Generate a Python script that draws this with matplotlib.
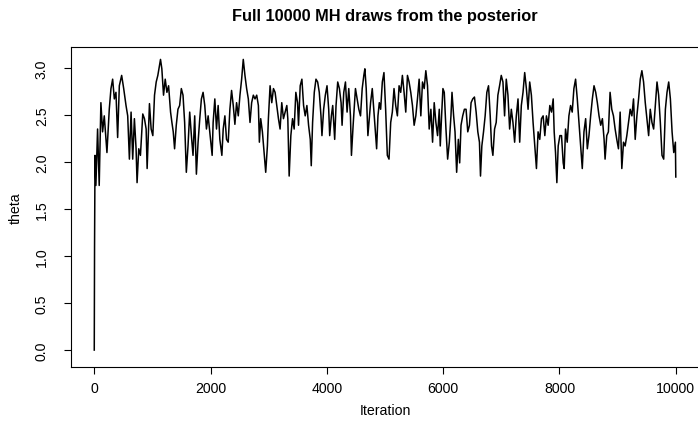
import matplotlib
matplotlib.use("Agg")
import matplotlib.pyplot as plt

plt.rcParams['font.family'] = ['Liberation Sans', 'DejaVu Sans']

title = "Full 10000 MH draws from the posterior"
xlabel = "Iteration"
ylabel = "theta"
xticks = [0, 2000, 4000, 6000, 8000, 10000]
yticks = [0.0, 0.5, 1.0, 1.5, 2.0, 2.5, 3.0]

iteration = [
    1, 6, 14, 29, 58, 86, 115, 144, 173, 202, 219, 259, 288, 317, 346, 374, 403, 432, 472, 507,
    547, 576, 605, 634, 662, 691, 720, 737, 766, 795, 835, 864, 893, 910, 950, 979, 1008, 1037,
    1066, 1094, 1140, 1163, 1192, 1221, 1250, 1279, 1313, 1336, 1359, 1382, 1411, 1440,
    1469, 1498, 1527, 1555, 1584, 1613, 1642, 1671, 1699, 1728, 1757, 1786, 1815, 1843, 1872,
    1901, 1930, 1959, 1987, 2028, 2045, 2074, 2103, 2131, 2160, 2195, 2218, 2247, 2275, 2304,
    2333, 2362, 2391, 2419, 2448, 2477, 2506, 2535, 2563, 2592, 2621, 2650, 2679, 2707, 2736,
    2765, 2794, 2823, 2840, 2863, 2892, 2921, 2949, 2978, 2995, 3024, 3053, 3082,
    3110, 3139, 3168, 3196, 3225, 3254, 3283, 3312, 3329, 3352, 3381, 3410, 3438, 3467, 3496,
    3513, 3542, 3571, 3600, 3628, 3657, 3686, 3715, 3732, 3755, 3784, 3813, 3842, 3870, 3899,
    3916, 3945, 3974, 4003, 4032, 4049, 4078, 4101, 4118, 4135, 4158, 4187, 4216, 4245, 4262,
    4291, 4320, 4348, 4377, 4406, 4423, 4452, 4492, 4521, 4550, 4579, 4608, 4636, 4654, 4677,
    4706, 4734,
    4752, 4781, 4810, 4838, 4856, 4879, 4902, 4925, 4954, 4982, 5011, 5040, 5069, 5098, 5126,
    5155, 5184, 5213, 5242, 5270, 5299, 5328, 5357, 5386, 5414, 5443, 5472, 5501, 5530, 5558,
    5587, 5616, 5645, 5674, 5702, 5731, 5760, 5789, 5818, 5846, 5875, 5904, 5933, 5950, 5973,
    5996, 6019, 6048, 6077, 6106, 6134, 6152, 6180, 6204, 6232, 6261, 6284, 6307, 6336, 6365,
    6394, 6423, 6452, 6480, 6509, 6538, 6567, 6596, 6624, 6642, 6665, 6694, 6722, 6751, 6780,
    6809, 6832, 6855, 6884, 6912, 6941, 6970, 6999, 7028, 7056, 7085, 7114, 7143, 7172, 7200,
    7229, 7258, 7287, 7316, 7344, 7373, 7402, 7431, 7460, 7488, 7517, 7546, 7575, 7604, 7632,
    7661, 7690, 7719, 7748, 7776, 7805, 7834, 7863, 7892, 7909, 7932, 7955, 7978, 8007,
    8035, 8064, 8081, 8104, 8133, 8162, 8191, 8219, 8248, 8277, 8306, 8335, 8363, 8392, 8421,
    8450, 8479, 8507, 8536, 8565, 8594, 8623, 8651, 8680, 8709, 8738, 8767, 8784, 8813, 8841,
    8870, 8899, 8928, 8957, 8985, 9014, 9043, 9072, 9101, 9129, 9158, 9187, 9216, 9245, 9273,
    9302, 9331, 9360, 9389, 9417, 9446, 9475, 9504, 9533, 9561, 9590, 9619, 9648, 9677, 9705,
    9734, 9763, 9792, 9821, 9849, 9878, 9907, 9936, 9965, 9993, 10000,
]

theta = [
    0.00, 1.10, 2.07, 1.75, 2.35, 1.75, 2.63, 2.32, 2.49, 2.24, 2.10, 2.56, 2.78, 2.88, 2.67, 2.74, 2.26, 2.81, 2.92, 2.78,
    2.60, 2.49, 2.03, 2.53, 2.03, 2.46, 2.14, 1.78, 2.14, 2.07, 2.51, 2.46, 2.35, 1.93, 2.62, 2.35, 2.28, 2.71,
    2.85, 2.92, 3.09, 2.99, 2.71, 2.88, 2.74, 2.81, 2.53, 2.42, 2.32, 2.14, 2.39, 2.56,
    2.60, 2.78, 2.71, 2.42, 1.89, 2.17, 2.53, 2.28, 2.07, 2.49, 1.87, 2.21, 2.46, 2.67, 2.74,
    2.60, 2.35, 2.49, 2.32, 2.07, 2.42, 2.67, 2.35, 2.60, 2.24, 2.07, 2.35, 2.49, 2.24, 2.21,
    2.56, 2.76, 2.60, 2.40, 2.63, 2.49, 2.71, 2.88, 3.09, 2.92, 2.78, 2.67, 2.42, 2.63, 2.71,
    2.67, 2.71, 2.60, 2.21, 2.46, 2.32, 2.10, 1.89, 2.17, 2.46, 2.81, 2.63, 2.78,
    2.74, 2.60, 2.46, 2.35, 2.63, 2.46, 2.53, 2.60, 2.46, 1.85, 2.28, 2.46, 2.35, 2.74, 2.63,
    2.39, 2.81, 2.88, 2.60, 2.49, 2.60, 2.39, 2.24, 1.96, 2.42, 2.74, 2.88, 2.85, 2.74, 2.49,
    2.28, 2.56, 2.71, 2.81, 2.56, 2.28, 2.49, 2.60, 2.42, 2.24, 2.60, 2.85, 2.78, 2.63, 2.39,
    2.74, 2.85, 2.53, 2.78, 2.49, 2.07, 2.39, 2.78, 2.67, 2.56, 2.49, 2.78, 2.92, 2.99, 2.78,
    2.28, 2.49,
    2.63, 2.78, 2.53, 2.28, 2.14, 2.49, 2.63, 2.56, 2.85, 2.95, 2.56, 2.07, 2.03, 2.42, 2.53,
    2.78, 2.60, 2.49, 2.81, 2.74, 2.92, 2.74, 2.53, 2.92, 2.85, 2.74, 2.60, 2.39, 2.49, 2.67,
    2.88, 2.49, 2.85, 2.78, 2.97, 2.81, 2.35, 2.56, 2.21, 2.63, 2.42, 2.28, 2.56, 2.17, 2.49,
    2.78, 2.74, 2.35, 2.03, 2.21, 2.49, 2.74, 2.49, 2.32, 1.89, 2.24, 1.99, 2.39, 2.49, 2.56,
    2.56, 2.32, 2.39, 2.63, 2.67, 2.69, 2.53, 2.32, 2.21, 1.85, 2.17, 2.32, 2.49, 2.74, 2.81,
    2.49, 2.17, 2.07, 2.35, 2.42, 2.71, 2.81, 2.92, 2.85, 2.49, 2.88, 2.71, 2.35, 2.56, 2.42,
    2.21, 2.49, 2.67, 2.21, 2.60, 2.74, 2.95, 2.78, 2.56, 2.85, 2.71, 2.42, 2.17, 1.93, 2.32,
    2.24, 2.46, 2.49, 2.28, 2.49, 2.39, 2.60, 2.53, 2.67, 2.32, 2.10, 1.78, 2.17, 2.28,
    2.28, 1.99, 1.93, 2.35, 2.21, 2.49, 2.60, 2.53, 2.78, 2.88, 2.67, 2.42, 2.17, 1.93, 2.32,
    2.46, 2.14, 2.28, 2.49, 2.67, 2.81, 2.74, 2.63, 2.49, 2.39, 2.46, 2.24, 2.03, 2.28, 2.32,
    2.74, 2.56, 2.49, 2.35, 2.24, 2.14, 2.53, 1.93, 2.21, 2.17, 2.28, 2.42, 2.56, 2.49, 2.67,
    2.24, 2.49, 2.67, 2.88, 2.97, 2.85, 2.63, 2.46, 2.28, 2.56, 2.42, 2.35, 2.60, 2.85, 2.71,
    2.42, 2.07, 2.03, 2.56, 2.74, 2.85, 2.67, 2.32, 2.10, 2.21, 1.84,
]

W, H = 698, 427
fig = plt.figure(figsize=(W / 100, H / 100), dpi=100)
left, right, top, bottom = 71, 699, 48, 368
ax = fig.add_axes([left / W, 1 - bottom / H, (right - left) / W, (bottom - top) / H])

ax.plot(iteration, theta, color="black", lw=1.1)

ax.set_xlim(-399, 10399)
ax.set_ylim(-0.18, 3.222)
ax.set_xticks(xticks)
ax.set_xticklabels([str(t) for t in xticks])
ax.set_yticks(yticks)
ax.set_yticklabels([f"{t:.1f}" for t in yticks], rotation=90, va="center")

for s in ax.spines.values():
    s.set_color("black")
    s.set_linewidth(0.8)
ax.tick_params(axis="both", direction="out", length=5, width=0.8, color="black",
               labelsize=10.2, labelcolor="black")
ax.tick_params(axis="x", pad=5)
ax.tick_params(axis="y", pad=11)

fig.text((left + right) / 2 / W, 1 - 16 / H, title, ha="center", va="center",
         fontsize=11.8, fontweight="bold")
fig.text((left + right) / 2 / W, 1 - 411 / H, xlabel, ha="center", va="center", fontsize=10.2)
fig.text(16 / W, 1 - 208 / H, ylabel, ha="center", va="center", rotation=90, fontsize=10.2)

fig.savefig("out.png", dpi=100)
